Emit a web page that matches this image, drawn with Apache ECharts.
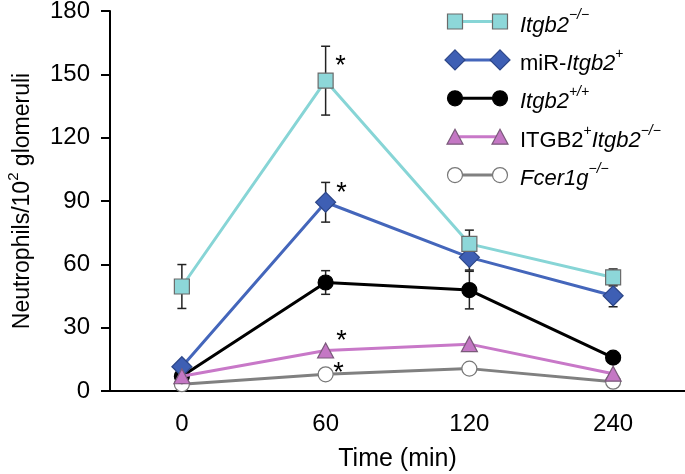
<!DOCTYPE html>
<html>
<head>
<meta charset="utf-8">
<script src="https://cdn.jsdelivr.net/npm/echarts@6/dist/echarts.min.js"></script>
<style>html,body{margin:0;padding:0;background:#fff}#c{width:685px;height:474px}</style>
</head>
<body>
<div id="c"></div>
<script>
// ---- data ----
const categories = ['0', '60', '120', '240'];
const yTicks = [0, 30, 60, 90, 120, 150, 180];

const itgb2KO      = [49.5, 147, 69.7, 53.8];
const itgb2KOErr   = [10.4, 16.3, 6.5, 4];
const mirItgb2     = [11.5, 89.4, 63.3, 45.1];
const mirItgb2Err  = [0, 9.4, 6, 5.2];
const itgb2WT      = [7, 51.4, 47.8, 15.8];
const itgb2WTErr   = [0, 5.6, 8.9, 0];
const itgb2Human   = [7, 19.2, 22.2, 8.2];
const fcer1gKO     = [3.2, 7.9, 10.6, 4.4];

const starsKO    = [false, true, false, false];
const starsMir   = [false, true, false, false];
const starsHuman = [false, true, false, false];
const starsFcer  = [false, true, false, false];

// ---- styles ----
const FONT = 'Liberation Sans, Arial, Helvetica, sans-serif';
const S = {
  ko:    {line: '#87d5d6', fill: '#8dd7d9', border: '#6a6a6a', symbol: 'rect',     size: 15},
  mir:   {line: '#4466bb', fill: '#3e5fb4', border: '#2c4688', symbol: 'diamond',  size: [20, 20]},
  wt:    {line: '#000000', fill: '#000000', border: '#000000', symbol: 'circle',   size: 15},
  hum:   {line: '#c878c8', fill: '#c477c4', border: '#7a5a7a', symbol: 'triangle', size: [16, 15]},
  fcer:  {line: '#808080', fill: '#ffffff', border: '#777777', symbol: 'circle',   size: 15}
};

function starData(vals, stars, off) {
  return vals.map((v, i) => stars[i] ? {
    value: v,
    label: {show: true, formatter: '*', position: 'inside', offset: off,
            fontSize: 27, fontFamily: FONT, color: '#000'}
  } : v);
}

function lineSeries(name, vals, st, z, stars, off) {
  return {
    name: name, type: 'line', data: stars ? starData(vals, stars, off) : vals,
    symbol: st.symbol, symbolSize: st.size, z: z,
    lineStyle: {color: st.line, width: 3},
    itemStyle: {color: st.fill, borderColor: st.border, borderWidth: 1.2, opacity: 1},
    emphasis: {disabled: true},
    animation: false
  };
}

function errData(vals, errs) {
  const out = [];
  vals.forEach((v, i) => { if (errs[i] > 0) out.push([i, v, errs[i]]); });
  return out;
}

const errSeries = {
  type: 'custom', z: 2, animation: false, silent: true,
  data: [].concat(errData(itgb2KO, itgb2KOErr), errData(mirItgb2, mirItgb2Err), errData(itgb2WT, itgb2WTErr)),
  encode: {x: 0, y: 1},
  renderItem: function (params, api) {
    const x = api.value(0), y = api.value(1), e = api.value(2);
    const top = api.coord([x, y + e]);
    const bot = api.coord([x, y - e]);
    const w = 4.5;
    const st = {stroke: '#222', lineWidth: 1.5};
    return {type: 'group', children: [
      {type: 'line', shape: {x1: top[0], y1: top[1], x2: bot[0], y2: bot[1]}, style: st},
      {type: 'line', shape: {x1: top[0] - w, y1: top[1], x2: top[0] + w, y2: top[1]}, style: st},
      {type: 'line', shape: {x1: bot[0] - w, y1: bot[1], x2: bot[0] + w, y2: bot[1]}, style: st}
    ]};
  }
};

// ---- legend (graphic) ----
const legendRows = [
  {st: S.ko,   text: '{i|Itgb2}{si|−/−}'},
  {st: S.mir,  text: '{n|miR-}{i|Itgb2}{s|+}'},
  {st: S.wt,   text: '{i|Itgb2}{si|+/+}'},
  {st: S.hum,  text: '{n|ITGB2}{s|+}{i|Itgb2}{si|−/−}'},
  {st: S.fcer, text: '{i|Fcer1g}{si|−/−}'}
];
const legendRich = {
  n:  {fontSize: 22, fontFamily: FONT, color: '#000', lineHeight: 28, verticalAlign: 'bottom'},
  i:  {fontSize: 22, fontFamily: FONT, color: '#000', fontStyle: 'italic', lineHeight: 28, verticalAlign: 'bottom'},
  s:  {fontSize: 14, fontFamily: FONT, color: '#000', lineHeight: 14, verticalAlign: 'top'},
  si: {fontSize: 14, fontFamily: FONT, color: '#000', fontStyle: 'italic', lineHeight: 14, verticalAlign: 'top'}
};
function symbolShape(st, cx, cy) {
  const style = {fill: st.fill, stroke: st.border, lineWidth: 1.2};
  if (st.symbol === 'rect') return {type: 'rect', shape: {x: cx - 7.5, y: cy - 7.5, width: 15, height: 15}, style};
  if (st.symbol === 'circle') return {type: 'circle', shape: {cx, cy, r: 7.5}, style};
  if (st.symbol === 'diamond') return {type: 'polygon', shape: {points: [[cx, cy - 10], [cx + 10, cy], [cx, cy + 10], [cx - 10, cy]]}, style};
  return {type: 'polygon', shape: {points: [[cx, cy - 7.5], [cx + 8, cy + 7.5], [cx - 8, cy + 7.5]]}, style};
}
const graphic = [];
legendRows.forEach((r, k) => {
  const y = 21.5 + k * 38.4;
  graphic.push({type: 'line', shape: {x1: 455, y1: y, x2: 500, y2: y}, style: {stroke: r.st.line, lineWidth: 3}, z: 10});
  graphic.push(Object.assign(symbolShape(r.st, 455, y), {z: 11}));
  graphic.push(Object.assign(symbolShape(r.st, 500, y), {z: 11}));
  graphic.push({type: 'text', x: 520, y: y + 1, z: 11,
    style: {text: r.text, rich: legendRich, verticalAlign: 'middle', align: 'left'}});
});

const chart = echarts.init(document.getElementById('c'), null, {renderer: 'canvas'});
chart.setOption({
  backgroundColor: '#fff',
  animation: false,
  grid: {left: 110, right: 0, top: 11, bottom: 83, outerBoundsMode: 'none'},
  xAxis: {
    type: 'category', data: categories, boundaryGap: true,
    name: 'Time (min)', nameLocation: 'middle', nameGap: 56,
    nameTextStyle: {fontSize: 25, fontFamily: FONT, color: '#000'},
    axisLine: {lineStyle: {color: '#000', width: 2}},
    axisTick: {alignWithLabel: true, length: 9, lineStyle: {color: '#000', width: 2}},
    axisLabel: {fontSize: 24, fontFamily: FONT, color: '#000', margin: 21},
    splitLine: {show: false}
  },
  yAxis: {
    type: 'value', min: yTicks[0], max: yTicks[yTicks.length - 1], interval: 30,
    name: '{n|Neutrophils/10}{s|2}{n| glomeruli}', nameLocation: 'middle', nameGap: 76,
    nameTextStyle: {
      color: '#000',
      rich: {
        n: {fontSize: 23, fontFamily: FONT, color: '#000', lineHeight: 28, verticalAlign: 'bottom'},
        s: {fontSize: 15, fontFamily: FONT, color: '#000', lineHeight: 15, verticalAlign: 'top'}
      }
    },
    axisLine: {show: true, lineStyle: {color: '#000', width: 2}},
    axisTick: {show: true, length: 9, lineStyle: {color: '#000', width: 2}},
    axisLabel: {fontSize: 24, fontFamily: FONT, color: '#000', margin: 20},
    splitLine: {show: false}
  },
  series: [
    errSeries,
    lineSeries('Fcer1g', fcer1gKO, S.fcer, 3, starsFcer, [13, -1]),
    lineSeries('Itgb2+/+', itgb2WT, S.wt, 4, null, null),
    lineSeries('miR-Itgb2+', mirItgb2, S.mir, 5, starsMir, [16, -9]),
    lineSeries('Itgb2-/-', itgb2KO, S.ko, 6, starsKO, [15, -14]),
    lineSeries('ITGB2+Itgb2-/-', itgb2Human, S.hum, 7, starsHuman, [16, -9])
  ],
  graphic: graphic
});
</script>
</body>
</html>
